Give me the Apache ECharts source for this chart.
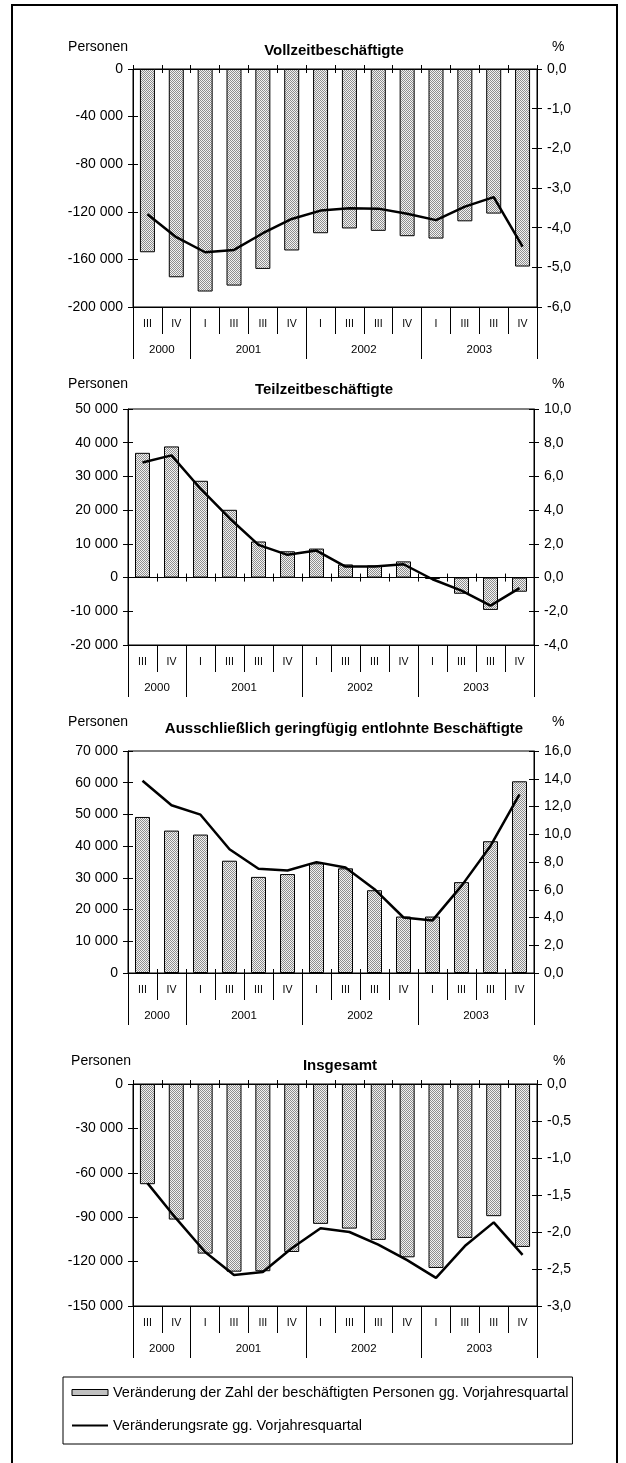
<!DOCTYPE html>
<html>
<head>
<meta charset="utf-8">
<script src="https://cdn.jsdelivr.net/npm/echarts@6/dist/echarts.min.js"></script>
<style>
  html, body { margin: 0; padding: 0; background: #fff; }
  #chart { width: 626px; height: 1463px; }
</style>
</head>
<body>
<div id="chart"></div>
<script>
// Quarter labels along the category axis and the year groups below them
const quarters = ['III', 'IV', 'I', 'III', 'III', 'IV', 'I', 'III', 'III', 'IV', 'I', 'III', 'III', 'IV'];
const yearLabels = ['2000', '2001', '2002', '2003'];
const quartersPerYear = [2, 4, 4, 4];

// Vollzeitbeschäftigte
const vollzeitPersonen = [-154000, -175000, -187000, -182000, -168000, -152500, -138000, -134000, -136000, -140500, -142500, -128000, -121500, -166000];
const vollzeitRate = [-3.66, -4.24, -4.62, -4.56, -4.14, -3.78, -3.57, -3.51, -3.52, -3.65, -3.81, -3.47, -3.23, -4.48];

// Teilzeitbeschäftigte
const teilzeitPersonen = [37000, 38900, 28700, 20100, 10700, 7800, 8600, 3900, 3600, 4800, -400, -4800, -9600, -4200];
const teilzeitRate = [6.83, 7.25, 5.27, 3.52, 1.94, 1.35, 1.60, 0.65, 0.65, 0.79, -0.10, -0.77, -1.66, -0.63];

// Ausschließlich geringfügig entlohnte Beschäftigte
const geringPersonen = [49200, 44900, 43650, 35400, 30300, 31200, 34600, 33000, 26100, 17800, 17800, 28650, 41550, 60450];
const geringRate = [13.86, 12.09, 11.41, 8.92, 7.51, 7.39, 7.99, 7.60, 6.04, 4.00, 3.79, 6.28, 9.16, 12.88];

// Insgesamt
const insgesamtPersonen = [-67700, -91600, -114600, -126800, -126500, -113500, -94500, -97700, -105300, -117100, -124300, -104000, -89300, -110100];
const insgesamtRate = [-1.34, -1.82, -2.27, -2.58, -2.54, -2.22, -1.95, -2.00, -2.17, -2.38, -2.62, -2.19, -1.87, -2.31];

const BAR_NAME = 'Veränderung der Zahl der beschäftigten Personen gg. Vorjahresquartal';
const LINE_NAME = 'Veränderungsrate gg. Vorjahresquartal';
const FONT = "'Liberation Sans', Arial, sans-serif";

// Panels: title, data, axis ranges and placement
const panels = [
  { title: 'Vollzeitbeschäftigte', persons: vollzeitPersonen, rate: vollzeitRate,
    left: [-200000, 0, 40000], right: [-6, 0, 1],
    grid: { left: 133, top: 69, width: 404, height: 238 }, titleX: 329, titleTop: 38, nameGap: 15, padL: 5, padR: 15 },
  { title: 'Teilzeitbeschäftigte', persons: teilzeitPersonen, rate: teilzeitRate,
    left: [-20000, 50000, 10000], right: [-4, 10, 2],
    grid: { left: 128, top: 409, width: 406, height: 236 }, titleX: 319, titleTop: 377, nameGap: 18, padL: 0, padR: 18 },
  { title: 'Ausschließlich geringfügig entlohnte Beschäftigte', persons: geringPersonen, rate: geringRate,
    left: [0, 70000, 10000], right: [0, 16, 2],
    grid: { left: 128, top: 751, width: 406, height: 222 }, titleX: 339, titleTop: 716, nameGap: 22, padL: 0, padR: 18 },
  { title: 'Insgesamt', persons: insgesamtPersonen, rate: insgesamtRate,
    left: [-150000, 0, 30000], right: [-3, 0, 0.5],
    grid: { left: 133, top: 1084, width: 404, height: 222 }, titleX: 335, titleTop: 1053, nameGap: 16, padL: 2, padR: 16 }
];

// Year row: one point per quarter boundary, year names at the middle of each group
const yearAxisData = new Array(quarters.length + 1).fill('');
const yearBounds = new Set([0]);
let pos = 0;
quartersPerYear.forEach((n, i) => {
  yearAxisData[pos + n / 2] = yearLabels[i];
  pos += n;
  yearBounds.add(pos);
});

function fmtPersons(v) {
  const a = Math.round(Math.abs(v)).toString().replace(/\B(?=(\d{3})+(?!\d))/g, ' ');
  return (v < 0 ? '-' : '') + a;
}
function fmtPct(v) {
  return (Math.round(v * 10) / 10).toFixed(1).replace('.', ',');
}

// Dithered grey fill for the bars
const pat = document.createElement('canvas');
pat.width = 2; pat.height = 2;
const pg = pat.getContext('2d');
pg.fillStyle = '#f2f2f2'; pg.fillRect(0, 0, 2, 2);
pg.fillStyle = '#8e8e8e'; pg.fillRect(0, 0, 1, 1); pg.fillRect(1, 1, 1, 1);
const barFill = { image: pat, repeat: 'repeat' };

const black = { color: '#000', width: 1 };
const option = {
  animation: false,
  textStyle: { fontFamily: FONT, color: '#000' },
  title: [], grid: [], xAxis: [], yAxis: [], series: [],
  graphic: [{
    type: 'rect', silent: true, z: -1,
    shape: { x: 12, y: 5, width: 605, height: 1475 },
    style: { fill: 'none', stroke: '#000', lineWidth: 2 }
  }],
  legend: {
    left: 63, top: 1377, orient: 'vertical',
    padding: [8, 4, 11, 8], itemGap: 18, itemWidth: 36, itemHeight: 6,
    borderColor: '#000', borderWidth: 1, selectedMode: false,
    textStyle: { fontFamily: FONT, fontSize: 14.5, color: '#000' },
    data: [
      { name: BAR_NAME, icon: 'rect', itemStyle: { borderColor: '#000', borderWidth: 1 } },
      { name: LINE_NAME, itemStyle: { opacity: 0 } }
    ]
  }
};

panels.forEach((p, g) => {
  option.grid.push(Object.assign({ show: true, borderColor: '#000', borderWidth: 1, backgroundColor: '#fff' }, p.grid));
  option.title.push({
    text: p.title, left: p.titleX, top: p.titleTop, textAlign: 'center',
    textStyle: { fontFamily: FONT, fontSize: 15, fontWeight: 'bold', color: '#000' }
  });

  const xBase = option.xAxis.length;
  // quarter row
  option.xAxis.push({
    type: 'category', gridIndex: g, position: 'bottom', data: quarters,
    axisLine: { show: true, onZero: false, lineStyle: black },
    axisTick: { show: true, length: 27, lineStyle: black },
    axisLabel: { interval: 0, fontSize: 10.5, margin: 12, color: '#000', fontFamily: FONT },
    splitLine: { show: false }
  });
  // year row
  option.xAxis.push({
    type: 'category', gridIndex: g, position: 'bottom', boundaryGap: false, data: yearAxisData,
    axisLine: { show: false, onZero: false },
    axisTick: { show: true, length: 52, lineStyle: black, interval: (i) => yearBounds.has(i) },
    axisLabel: { interval: (i, v) => v !== '', fontSize: 11.5, margin: 37, color: '#000', fontFamily: FONT },
    splitLine: { show: false }
  });
  // zero line, ticks below and above
  [false, true].forEach((inside) => {
    option.xAxis.push({
      type: 'category', gridIndex: g, position: 'bottom', data: quarters,
      axisLine: { show: !inside, onZero: true, lineStyle: black },
      axisTick: { show: true, inside: inside, length: 4, lineStyle: black },
      axisLabel: { show: false }, splitLine: { show: false }
    });
  });

  const yBase = option.yAxis.length;
  const yCommonL = { type: 'value', gridIndex: g, position: 'left', min: p.left[0], max: p.left[1], interval: p.left[2], splitLine: { show: false } };
  const yCommonR = { type: 'value', gridIndex: g, position: 'right', min: p.right[0], max: p.right[1], interval: p.right[2], splitLine: { show: false } };
  option.yAxis.push(Object.assign({}, yCommonL, {
    name: 'Personen', nameLocation: 'end', nameGap: p.nameGap,
    nameTextStyle: { fontFamily: FONT, fontSize: 14, color: '#000', align: 'right', padding: [0, p.padL, 0, 0] },
    axisLine: { show: true, lineStyle: black },
    axisTick: { show: true, length: 5, lineStyle: black },
    axisLabel: { formatter: fmtPersons, fontSize: 14, margin: 10, color: '#000', fontFamily: FONT }
  }));
  option.yAxis.push(Object.assign({}, yCommonL, {
    axisLine: { show: false }, axisLabel: { show: false },
    axisTick: { show: true, inside: true, length: 5, lineStyle: black }
  }));
  option.yAxis.push(Object.assign({}, yCommonR, {
    name: '%', nameLocation: 'end', nameGap: p.nameGap,
    nameTextStyle: { fontFamily: FONT, fontSize: 14, color: '#000', align: 'left', padding: [0, 0, 0, p.padR] },
    axisLine: { show: true, lineStyle: black },
    axisTick: { show: true, length: 5, lineStyle: black },
    axisLabel: { formatter: fmtPct, fontSize: 14, margin: 10, color: '#000', fontFamily: FONT }
  }));
  option.yAxis.push(Object.assign({}, yCommonR, {
    axisLine: { show: false }, axisLabel: { show: false },
    axisTick: { show: true, inside: true, length: 5, lineStyle: black }
  }));

  option.series.push({
    type: 'bar', name: BAR_NAME, xAxisIndex: xBase, yAxisIndex: yBase,
    data: p.persons, barWidth: 15, silent: true,
    itemStyle: { color: barFill, borderColor: '#000', borderWidth: 1 }
  });
  option.series.push({
    type: 'line', name: LINE_NAME, xAxisIndex: xBase, yAxisIndex: yBase + 2,
    data: p.rate, symbol: 'none', silent: true, z: 5,
    lineStyle: { color: '#000', width: 2.5 }, itemStyle: { color: '#000' }
  });
});

const chart = echarts.init(document.getElementById('chart'), null, { renderer: 'canvas' });
chart.setOption(option);
</script>
</body>
</html>
